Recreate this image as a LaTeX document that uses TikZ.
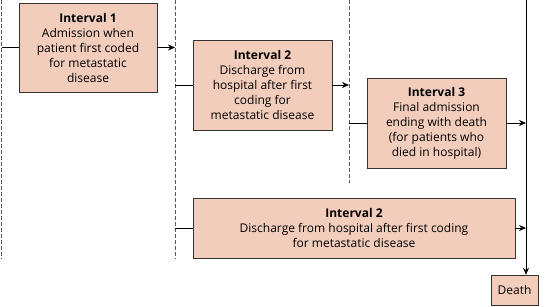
\documentclass[tikz,border=0pt]{standalone}
\usepackage{fontspec}
\setmainfont{Open Sans}
\usetikzlibrary{arrows.meta,positioning,calc}
\definecolor{peach}{HTML}{F2CDBC}
\tikzset{
  box/.style={draw=black!80, fill=peach, align=center, inner sep=2pt, font=\fontsize{12}{15}\selectfont},
  edge/.style={-{Stealth[length=7pt,width=6pt]}, semithick},
  plainedge/.style={semithick},
  divider/.style={black!65, thick, dash pattern=on 3.5pt off 2.5pt}
}

\begin{document}
\begin{tikzpicture}[x=1pt,y=-1pt]
\useasboundingbox (0,0) rectangle (555,306);
\node[box, minimum width=138pt, minimum height=89pt] (i1) at (88,47.5) {\textbf{Interval 1}\\Admission when\\patient first coded\\for metastatic\\disease};
\node[box, minimum width=139pt, minimum height=90pt] (i2) at (262.5,85) {\textbf{Interval 2}\\Discharge from\\hospital after first\\coding for\\metastatic disease};
\node[box, minimum width=139pt, minimum height=90pt] (i3) at (436.5,123) {\textbf{Interval 3}\\Final admission\\ending with death\\(for patients who\\died in hospital)};
\node[box, minimum width=322pt, minimum height=60pt] (i2b) at (354,228) {\textbf{Interval 2}\\Discharge from hospital after first coding\\for metastatic disease};
\node[box, minimum width=47pt, minimum height=30pt] (death) at (514.5,290) {Death};

% time dividers
\coordinate (d0) at (1.5,0);
\coordinate (d0end) at (1.5,259);
\coordinate (d1) at (175,0);
\coordinate (d1end) at (175,259);
\coordinate (d2) at (349,0);
\coordinate (d2end) at (349,183);
\coordinate (dt) at (526,0);
\draw[divider] (d0) -- (d0end);
\draw[divider] (d1) -- (d1end);
\draw[divider] (d2) -- (d2end);

\draw[plainedge] (d0 |- i1.west) -- (i1.west);
\draw[edge] (i1.east) -- (d1 |- i1.east);
\draw[plainedge] (d1 |- i2.west) -- (i2.west);
\draw[edge] (i2.east) -- (d2 |- i2.east);
\draw[plainedge] (d2 |- i3.west) -- (i3.west);
\draw[edge] (i3.east) -- (dt |- i3.east);
\draw[plainedge] (d1 |- i2b.west) -- (i2b.west);
\draw[edge] (i2b.east) -- (dt |- i2b.east);
\draw[edge, thick] (dt) -- (dt |- death.north);
\end{tikzpicture}
\end{document}
